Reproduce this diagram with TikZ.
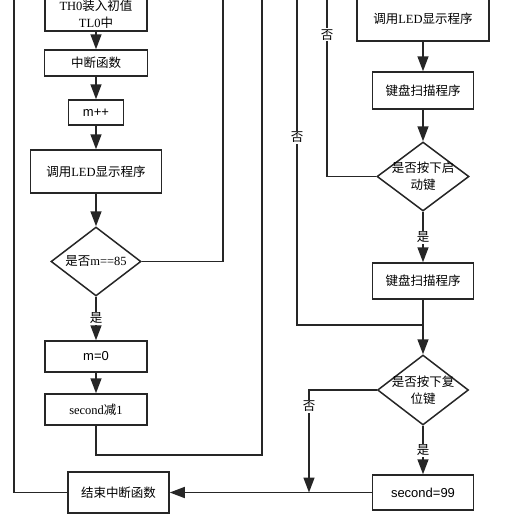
\documentclass[tikz,border=0pt]{standalone}
\usepackage{fontspec}
\setmainfont{Liberation Serif}
\newfontfamily\cjk{Noto Sans CJK SC}
\newfontfamily\arialfont{Liberation Sans}
\usepackage{tikz}
\usetikzlibrary{positioning}
\usetikzlibrary{shapes.geometric}
\usetikzlibrary{arrows.meta}
\definecolor{linie}{RGB}{38,38,38}
\newcommand{\latn}[1]{{\rmfamily #1}}
\tikzset{
  flowchart/.style={
    x=1pt, y=-1pt,
    every node/.style={font={\fontsize{12.5}{17}\selectfont\cjk}},
    proc/.style={rectangle, draw=linie, fill=white, line width=1.5pt, align=center, inner sep=0pt},
    decision/.style={diamond, draw=linie, fill=white, line width=1.5pt, align=center, inner sep=-3.5pt, aspect=1.3},
    link/.style={draw=linie, line width=1.5pt},
    flow/.style={link, -{Triangle[length=15pt,width=11pt]}},
    branch/.style={fill=white, inner sep=1pt},
  }
}

\begin{document}
\begin{tikzpicture}[flowchart]
    \useasboundingbox (0,0) rectangle (506,520);

    % left column
    \node[proc, minimum width=102pt, minimum height=34pt] (init) at (96,14) {\latn{TH0}装入初值\\\latn{TL0}中};
    \node[proc, minimum width=103pt, minimum height=26pt] (int) at (96,63) {中断函数};
    \node[proc, minimum width=55pt, minimum height=25pt, font={\fontsize{13}{15}\selectfont\arialfont}] (mpp) at (96,112.5) {m++};
    \node[proc, minimum width=131pt, minimum height=43pt] (led1) at (96,171.5) {调用\latn{LED}显示程序};
    \node[decision, minimum width=90pt, minimum height=69pt] (dia1) at (96,261.5) {是否\latn{m==85}};
    \node[proc, minimum width=102pt, minimum height=31pt, font={\fontsize{13}{15}\selectfont\arialfont}] (m0) at (96,356.5) {m=0};
    \node[proc, minimum width=102pt, minimum height=31pt] (sec) at (96,409.5) {\latn{second}减\latn{1}};
    \node[proc, minimum width=101pt, minimum height=41pt] (endi) at (118.5,492.5) {结束中断函数};

    % right column
    \node[proc, minimum width=132pt, minimum height=45pt] (led2) at (423,18.5) {调用\latn{LED}显示程序};
    \node[proc, minimum width=101pt, minimum height=37pt] (scan1) at (423,90.5) {键盘扫描程序};
    \node[decision, minimum width=92pt, minimum height=69pt] (dia2) at (423,176.5) {是否按下启\\动键};
    \node[proc, minimum width=101pt, minimum height=36pt] (scan2) at (423,281) {键盘扫描程序};
    \node[decision, minimum width=91pt, minimum height=70pt] (dia3) at (423,390) {是否按下复\\位键};
    \node[proc, minimum width=101pt, minimum height=35pt, font={\fontsize{13}{15}\selectfont\arialfont}] (s99) at (423,492.5) {second=99};

    \coordinate (top0) at (14,-10);
    \coordinate (top1) at (223,-10);
    \coordinate (top2) at (262,-10);
    \coordinate (top3) at (297,-10);
    \coordinate (top4) at (327,-10);
    \coordinate (low) at (262,455);
    \coordinate (join) at (423,325);
    \coordinate (meet) at (309,492.5);

    \draw[flow] (init) -- (int);
    \draw[flow] (int) -- (mpp);
    \draw[flow] (mpp) -- (led1);
    \draw[flow] (led1) -- (dia1);
    \draw[flow] (dia1) -- node[branch]{是} (m0);
    \draw[flow] (m0) -- (sec);
    \draw[link] (dia1.east) -| (top1);
    \draw[link] (sec.south) |- (low) -- (top2);
    \draw[link] (endi.west) -| (top0);

    \draw[flow] (led2) -- (scan1);
    \draw[flow] (scan1) -- (dia2);
    \draw[flow] (dia2) -- node[branch]{是} (scan2);
    \draw[flow] (scan2) -- (dia3);
    \draw[link] (dia2.west) -| node[branch, pos=0.88]{否} (top4);
    \draw[link] (top3) |- node[branch, pos=0.22]{否} (join);
    \draw[flow] (dia3.west) -| node[branch, pos=0.58]{否} (meet);
    \draw[flow] (dia3) -- node[branch]{是} (s99);
    \draw[flow] (s99) -- (endi);
\end{tikzpicture}
\end{document}
